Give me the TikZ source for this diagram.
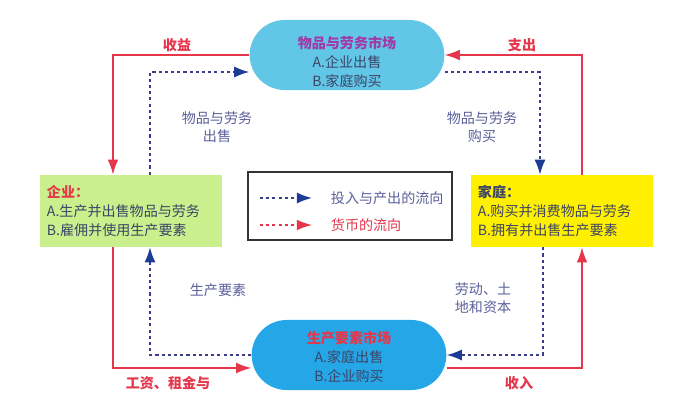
\documentclass[tikz,border=0pt]{standalone}
\usepackage{fontspec}
\setmainfont{Noto Sans CJK SC}
\usetikzlibrary{arrows.meta,shapes.misc}

\definecolor{moneyred}{HTML}{E5364B}
\definecolor{flowblue}{HTML}{3A3D8C}
\definecolor{tipblue}{HTML}{1E3C96}
\definecolor{goodsfill}{HTML}{62C6E6}
\definecolor{factorfill}{HTML}{25A6E6}
\definecolor{firmfill}{HTML}{C9F08C}
\definecolor{homefill}{HTML}{FFF000}
\definecolor{goodstitle}{HTML}{A03AA6}
\definecolor{bodytxt}{HTML}{3C4466}
\definecolor{labeltxt}{HTML}{5B5E9A}

\begin{document}
\begin{tikzpicture}[x=0.025cm, y=-0.025cm,
        % Market ovals
        market/.style={rounded rectangle, minimum width=5.1cm, minimum height=1.75cm},
        markettext/.style={align=center, text=bodytxt, font=\fontsize{10}{13.5}\selectfont},
        % Sector boxes
        sector/.style={rectangle, text width=4.2cm, inner xsep=0.18cm, minimum height=1.8cm, align=left, text=bodytxt, font=\fontsize{10}{13.5}\selectfont},
        % Money arrows (red, solid)
        money/.style={-{Latex[length=3.8mm,width=2.7mm]}, moneyred, line width=1.2pt},
        % Goods and factor arrows (blue, dotted)
        flow/.style={-{Latex[length=3.8mm,width=2.8mm,color=tipblue]}, flowblue, line width=1.3pt, dash pattern=on 2.2pt off 2.2pt},
        % Labels
        label/.style={text=labeltxt, align=center, font=\fontsize{10}{13}\selectfont},
        moneylabel/.style={text=moneyred, font=\fontsize{10}{13}\selectfont\bfseries}
    ]
    \useasboundingbox (0,0) rectangle (697,405);

    % Markets
    \node[market, fill=goodsfill] (goods) at (347,55) {};
    \node[markettext] (goodstxt) at (347,62)
        {\textcolor{goodstitle}{\bfseries 物品与劳务市场}\\A.企业出售\\B.家庭购买};
    \node[market, fill=factorfill] (factor) at (349,355) {};
    \node[markettext] (factortxt) at (349,357)
        {\textcolor{moneyred}{\bfseries 生产要素市场}\\A.家庭出售\\B.企业购买};

    % Sectors
    \node[sector, fill=firmfill] (firm) at (131,211)
        {\textcolor{moneyred}{\bfseries 企业：}\\A.生产并出售物品与劳务\\B.雇佣并使用生产要素};
    \node[sector, fill=homefill] (home) at (562,211)
        {{\bfseries 家庭：}\\A.购买并消费物品与劳务\\B.拥有并出售生产要素};

    % Legend
    \node[draw=black!80, line width=1.4pt, minimum width=5.1cm, minimum height=1.68cm] (legend) at (350,206) {};
    \coordinate (legflowA) at (260,198);
    \coordinate (legflowB) at (312,198);
    \coordinate (legmoneyA) at (260,225);
    \coordinate (legmoneyB) at (312,225);
    \draw[flow] (legflowA) -- (legflowB);
    \draw[money, line width=1.1pt, dash pattern=on 2.2pt off 2.2pt] (legmoneyA) -- (legmoneyB);
    \node[label, anchor=west] (legflowtxt) at (326,198) {投入与产出的流向};
    \node[label, anchor=west, text=moneyred] (legmoneytxt) at (326,225) {货币的流向};

    % Top left
    \draw[money] (goods.west) -| ([xshift=-0.45cm]firm.north);
    \draw[flow] ([xshift=0.475cm]firm.north) |- ([yshift=-0.425cm]goods.west);
    \node[moneylabel] (revenue) at (177,45) {收益};
    \node[label] (sell) at (217,127) {物品与劳务\\出售};

    % Top right
    \draw[money] ([xshift=0.5cm]home.north) |- (goods.east);
    \draw[flow] ([yshift=-0.425cm]goods.east) -| ([xshift=-0.55cm]home.north);
    \node[moneylabel] (spend) at (522,45) {支出};
    \node[label] (buy) at (482,127) {物品与劳务\\购买};

    % Bottom left
    \draw[flow] (factor.west) -| ([xshift=0.475cm]firm.south);
    \draw[money] ([xshift=-0.45cm]firm.south) |- ([yshift=-0.325cm]factor.west);
    \node[label] (inputs) at (218,290) {生产要素};
    \node[moneylabel] (wages) at (168,383) {工资、租金与};

    % Bottom right
    \draw[flow] ([xshift=-0.475cm]home.south) |- (factor.east);
    \draw[money] ([yshift=-0.325cm]factor.east) -| ([xshift=0.5cm]home.south);
    \node[label, align=left] (labour) at (483,298) {劳动、土\\地和资本};
    \node[moneylabel] (income) at (519,383) {收入};

\end{tikzpicture}
\end{document}
